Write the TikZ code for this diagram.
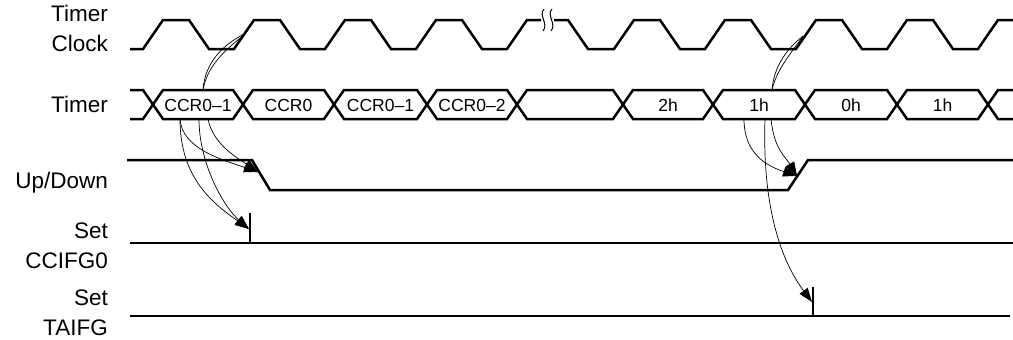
\documentclass[tikz,border=0pt]{standalone}
\usepackage{fontspec}
\setmainfont{Liberation Sans}
\usetikzlibrary{arrows.meta}

\begin{document}
\begin{tikzpicture}[x=1pt,y=-1pt,
  wave/.style={line width=2.5pt,line join=miter},
  thin/.style={line width=0.7pt},
  link/.style={thin,-{Triangle[length=14pt,width=10pt]}},
  sig/.style={font=\fontsize{22.5}{26}\selectfont,anchor=base east,inner sep=0pt},
  val/.style={font=\fontsize{17.5}{20}\selectfont,inner sep=0pt}
]
\useasboundingbox (0,0) rectangle (1013,340);

% Signal names (left)
\node[sig] (lTimerA) at (108,21) {Timer};
\node[sig] (lClock) at (108,51) {Clock};
\node[sig] (lTimer) at (108,112) {Timer};
\node[sig] (lUpDown) at (108,188) {Up/Down};
\node[sig] (lSetA) at (108,238) {Set};
\node[sig] (lCCIFG) at (108,268) {CCIFG0};
\node[sig] (lSetB) at (108,305) {Set};
\node[sig] (lTAIFG) at (108,335) {TAIFG};

% Timer clock
\draw[wave] (130,49) foreach \r in {143,234,325,416} { -- (\r,49) -- (\r+20,20) -- (\r+46,20) -- (\r+66,49) }
  -- (507,49) -- (527,20) -- (541,20);
\draw[wave] (554,20) -- (568,20) -- (588,49) foreach \r in {614,705,796,887} { -- (\r,49) -- (\r+20,20) -- (\r+46,20) -- (\r+66,49) }
  -- (978,49) -- (998,20) -- (1013,20);
% break marks
\draw[thin,line width=1pt] (544,9) .. controls (538,15) and (549,24) .. (543,31);
\draw[thin,line width=1pt] (552,9) .. controls (546,15) and (557,24) .. (551,31);

% Timer bus
\draw[wave] (130,90) -- (143,90) -- (153,104.5) -- (143,119) -- (130,119);
\foreach \a/\b in {153/243,243/334,334/427,427/517,517/623,623/713,713/805,805/897,897/988}
  \draw[wave] (\a,104.5) -- (\a+10,90) -- (\b-10,90) -- (\b,104.5) -- (\b-10,119) -- (\a+10,119) -- cycle;
\draw[wave] (1013,90) -- (998,90) -- (988,104.5) -- (998,119) -- (1013,119);
\foreach \m/\t [count=\i] in {198/CCR0--1,288.5/CCR0,380.5/CCR0--1,472/CCR0--2,668/2h,759/1h,851/0h,942.5/1h}
  \node[val] (v\i) at (\m,105) {\t};

% Up/Down
\draw[wave] (127,160) -- (252,160) -- (270,190) -- (788,190) -- (808,160) -- (1013,160);

% Flags
\draw[wave] (130,243) -- (1013,243);
\draw[wave] (250,243) -- (250,213);
\draw[wave] (130,316) -- (1010,316);
\draw[wave] (813,316) -- (813,287);

% Arrow end points
\coordinate (ckA) at (246,33);
\coordinate (ckB) at (803,36);
\coordinate (topA) at (203,90);
\coordinate (topB) at (772,90);
\coordinate (botA1) at (180,119);
\coordinate (botA2) at (199,119);
\coordinate (botA3) at (208,119);
\coordinate (botB1) at (744,119);
\coordinate (botB2) at (765,119);
\coordinate (botB3) at (771,119);
\coordinate (udA) at (258,172);
\coordinate (ccA) at (249,229);
\coordinate (udB) at (797,176);
\coordinate (taB) at (812,302);

% Arrows
\draw[thin] (topA) .. controls +(2,-30) and +(-20,10) .. (ckA);
\draw[thin] (topA) .. controls +(5,-28) and +(-16,14) .. (ckA);
\draw[thin] (topB) .. controls +(2,-25) and +(-15,12) .. (ckB);
\draw[thin] (topB) .. controls +(5,-22) and +(-10,15) .. (ckB);

\draw[link] (botA1) .. controls +(2,30) and +(-35,-12) .. (udA);
\draw[link] (botA3) .. controls +(5,25) and +(-22,-15) .. (udA);
\draw[link] (botA1) .. controls +(0,60) and +(-35,-25) .. (ccA);
\draw[link] (botA2) .. controls +(0,45) and +(-25,-22) .. (ccA);

\draw[link] (botB1) .. controls +(0,35) and +(-30,-10) .. (udB);
\draw[link] (botB3) .. controls +(3,30) and +(-12,-20) .. (udB);
\draw[link] (botB2) .. controls +(-3,90) and +(-30,-40) .. (taB);

\end{tikzpicture}
\end{document}
